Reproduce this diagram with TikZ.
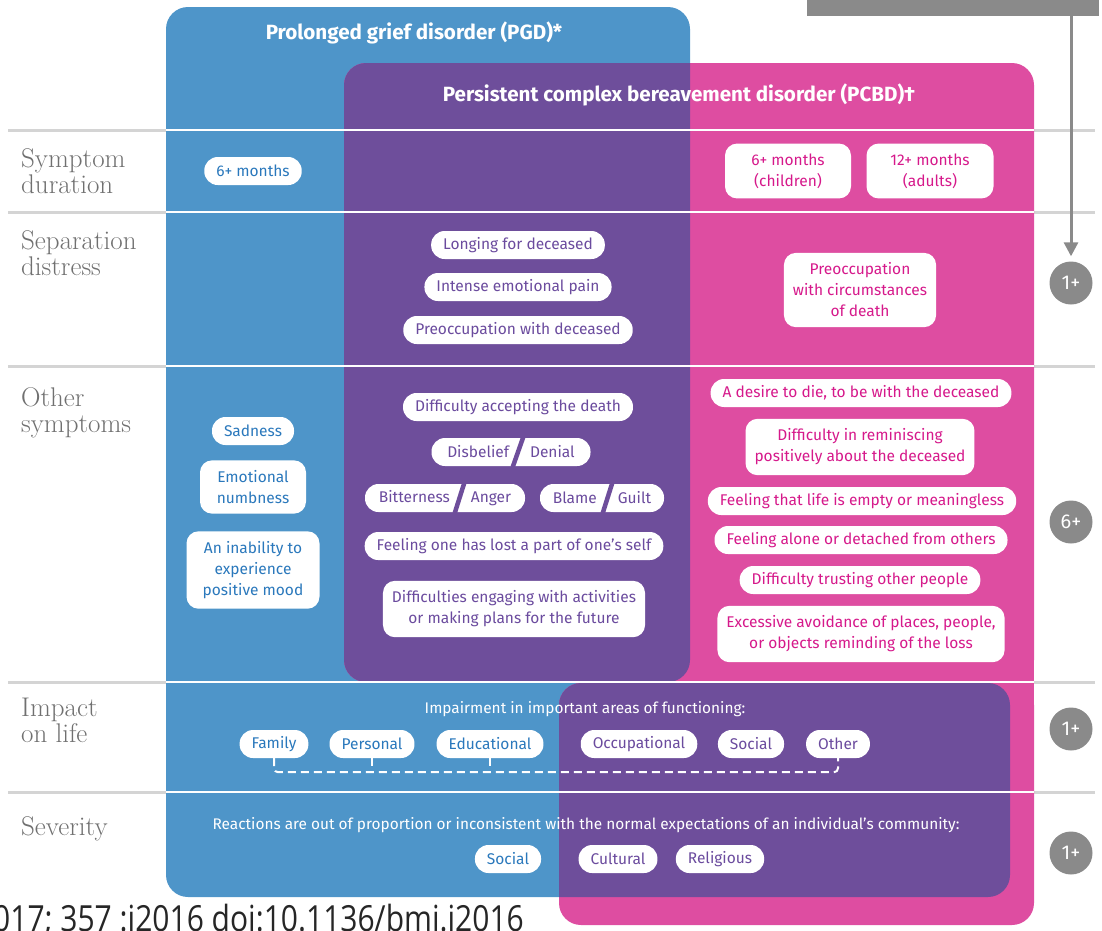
\documentclass[tikz,border=0pt]{standalone}
\usepackage{fontspec}
\usepackage{tikz}
\usetikzlibrary{arrows.meta}
\newfontfamily\firasans{Fira Sans}
\newfontfamily\opensans{Open Sans}
\definecolor{pgdblue}{HTML}{4E95C9}
\definecolor{pcbdpink}{HTML}{DE4DA1}
\definecolor{bothpurple}{HTML}{6E4E9B}
\definecolor{bluetext}{HTML}{2A78BC}
\definecolor{pinktext}{HTML}{D6198B}
\definecolor{purpletext}{HTML}{6B4B9E}
\definecolor{labelgray}{HTML}{707070}
\definecolor{countgray}{HTML}{8A8A8A}
\definecolor{rulegray}{HTML}{D4D4D4}

\begin{document}
\begin{tikzpicture}[x=1pt, y=-1pt,
        pill/.style={fill=white, rounded corners=13.5pt, minimum height=28pt, inner xsep=12pt, inner ysep=3pt, font=\firasans\fontsize{15.5}{21}\selectfont},
        pillbox/.style={fill=white, rounded corners=12pt, inner xsep=9pt, inner ysep=10pt, align=center, font=\firasans\fontsize{15.5}{21}\selectfont},
        onpgd/.style={text=bluetext},
        onboth/.style={text=purpletext},
        onpcbd/.style={text=pinktext},
        rowlabel/.style={anchor=north west, inner sep=0pt, align=left, text=labelgray, font=\fontsize{27}{26}\selectfont},
        count/.style={circle, fill=countgray, text=white, minimum size=43pt, inner sep=0pt, font=\firasans\fontsize{20}{20}\selectfont},
        heading/.style={text=white, font=\firasans\bfseries\fontsize{20.6}{24}\selectfont},
        note/.style={text=white, font=\firasans\fontsize{15.4}{18}\selectfont},
        slash/.style={draw=bothpurple, line width=4.5pt, shorten <=-1pt, shorten >=-1pt},
        bracket/.style={draw=white, line width=2pt, dash pattern=on 8pt off 5pt, rounded corners=4pt},
        rule/.style={draw=rulegray, line width=3pt},
        whiterule/.style={draw=white, line width=2.5pt}]
        \useasboundingbox (0,0) rectangle (1102,930);

        % Row rules
        \foreach \y in {130,212,366,682,792}
            \draw[rule] (8,\y) -- (1095,\y);

        % PGD and PCBD fields, upper part
        \fill[pgdblue, rounded corners=22pt] (166,7) rectangle (690,682);
        \fill[pgdblue] (166,640) rectangle (200,682);
        \fill[pcbdpink, rounded corners=22pt] (344,63) rectangle (1034,682);
        \fill[pcbdpink] (1000,640) rectangle (1034,682);
        \begin{scope}
            \clip[rounded corners=22pt] (166,7) rectangle (690,682);
            \fill[bothpurple, rounded corners=22pt] (344,63) rectangle (1034,682);
        \end{scope}

        % PGD and PCBD fields, lower part
        \fill[pgdblue, rounded corners=22pt] (166,683) rectangle (1010,897);
        \fill[pgdblue] (166,683) rectangle (200,720);
        \fill[pcbdpink, rounded corners=22pt] (559,683) rectangle (1034,925);
        \fill[pcbdpink] (1000,683) rectangle (1034,720);
        \begin{scope}
            \clip[rounded corners=22pt] (166,683) rectangle (1010,897);
            \fill[bothpurple, rounded corners=22pt] (559,683) rectangle (1034,925);
        \end{scope}

        \foreach \y in {130,212,366,682,792}
            \draw[whiterule] (166,\y) -- (1034,\y);

        % Headings
        \node[heading] (pgd) at (414,33) {Prolonged grief disorder (PGD)*};
        \node[heading] (pcbd) at (679,95) {Persistent complex bereavement disorder (PCBD)†};

        % Row labels
        \node[rowlabel] (duration) at (21,148) {Symptom\\duration};
        \node[rowlabel] (separation) at (21,230) {Separation\\distress};
        \node[rowlabel] (other) at (21,387) {Other\\symptoms};
        \node[rowlabel] (impact) at (21,698) {Impact\\on life};
        \node[rowlabel] (severity) at (21,816) {Severity};

        % Symptom duration
        \node[pill, onpgd] (pgdmonths) at (253,171) {6+ months};
        \node[pillbox, onpcbd, minimum width=126pt] (childmonths) at (788,171) {6+ months\\(children)};
        \node[pillbox, onpcbd, minimum width=127pt] (adultmonths) at (930,171) {12+ months\\(adults)};

        % Separation distress
        \node[pill, onboth] (longing) at (518,245) {Longing for deceased};
        \node[pill, onboth] (pain) at (518,287) {Intense emotional pain};
        \node[pill, onboth] (preoccdeceased) at (518,330) {Preoccupation with deceased};
        \node[pillbox, onpcbd] (preocccirc) at (860,290) {Preoccupation\\with circumstances\\of death};

        % Other symptoms
        \node[pill, onpgd] (sadness) at (253,431) {Sadness};
        \node[pillbox, onpgd, minimum width=106pt] (numbness) at (253,487) {Emotional\\numbness};
        \node[pillbox, onpgd, minimum width=133pt] (inability) at (253,570) {An inability to\\experience\\positive mood};

        \node[pill, onboth] (accepting) at (518,407) {Difficulty accepting the death};
        \node[pill, onboth, minimum width=159pt] (disbelief) at (511,452) {Disbelief\hspace{21pt}Denial};
        \draw[slash] ([xshift=2pt]disbelief.south) -- ([xshift=12pt]disbelief.north);
        \node[pill, onboth, minimum width=160pt] (bitterness) at (445,498) {Bitterness\hspace{21pt}Anger};
        \draw[slash] ([xshift=10pt]bitterness.south) -- ([xshift=19pt]bitterness.north);
        \node[pill, onboth, minimum width=124pt] (blame) at (602,498) {Blame\hspace{21pt}Guilt};
        \draw[slash] ([xshift=1pt]blame.south) -- ([xshift=10pt]blame.north);
        \node[pill, onboth] (lostself) at (514,546) {Feeling one has lost a part of one’s self};
        \node[pillbox, onboth] (engaging) at (514,609) {Difficulties engaging with activities\\or making plans for the future};

        \node[pill, onpcbd] (desire) at (861,393) {A desire to die, to be with the deceased};
        \node[pillbox, onpcbd] (reminiscing) at (860,447) {Difficulty in reminiscing\\positively about the deceased};
        \node[pill, onpcbd] (empty) at (862,501) {Feeling that life is empty or meaningless};
        \node[pill, onpcbd] (alone) at (861,540) {Feeling alone or detached from others};
        \node[pill, onpcbd] (trusting) at (860,580) {Difficulty trusting other people};
        \node[pillbox, onpcbd] (avoidance) at (861,634) {Excessive avoidance of places, people,\\or objects reminding of the loss};

        % Impact on life
        \node[note] (impairment) at (585,709) {Impairment in important areas of functioning:};
        \node[pill, onpgd] (family) at (274,744) {Family};
        \node[pill, onpgd] (personal) at (372,744) {Personal};
        \node[pill, onpgd] (educational) at (490,744) {Educational};
        \node[pill, onboth] (occupational) at (639,744) {Occupational};
        \node[pill, onboth] (social) at (751,744) {Social};
        \node[pill, onboth] (othr) at (838,744) {Other};
        \draw[bracket] (family.south) -- ++(0,14) -| (othr.south);
        \draw[bracket] (personal.south) -- ++(0,14);
        \draw[bracket] (educational.south) -- ++(0,14);

        % Severity
        \node[note] (reactions) at (586,825) {Reactions are out of proportion or inconsistent with the normal expectations of an individual’s community:};
        \node[pill, onpgd] (socialsev) at (508,859) {Social};
        \node[pill, onboth] (cultural) at (618,859) {Cultural};
        \node[pill, onboth] (religious) at (720,859) {Religious};

        % Counts
        \node[fill=countgray, minimum width=292pt, minimum height=16pt, inner sep=0pt, anchor=north west] (bar) at (807,0) {};
        \node[count] (sepcount) at (1071,283) {1+};
        \node[count] (othercount) at (1071,522) {6+};
        \node[count] (impactcount) at (1071,729) {1+};
        \node[count] (sevcount) at (1071,853) {1+};
        \draw[countgray, line width=3pt, -{Triangle[length=14pt, width=14pt]}, shorten >=5pt] (bar.south -| sepcount) -- (sepcount.north);

        % Source line
        \node[anchor=base west, inner sep=0pt, text=black!85, font=\opensans\fontsize{30}{30}\selectfont] (source) at (-7,931) {\scalebox{1}[1.2]{017; 357 :j2016 doi:10.1136/bmj.j2016}};
    \end{tikzpicture}
\end{document}
